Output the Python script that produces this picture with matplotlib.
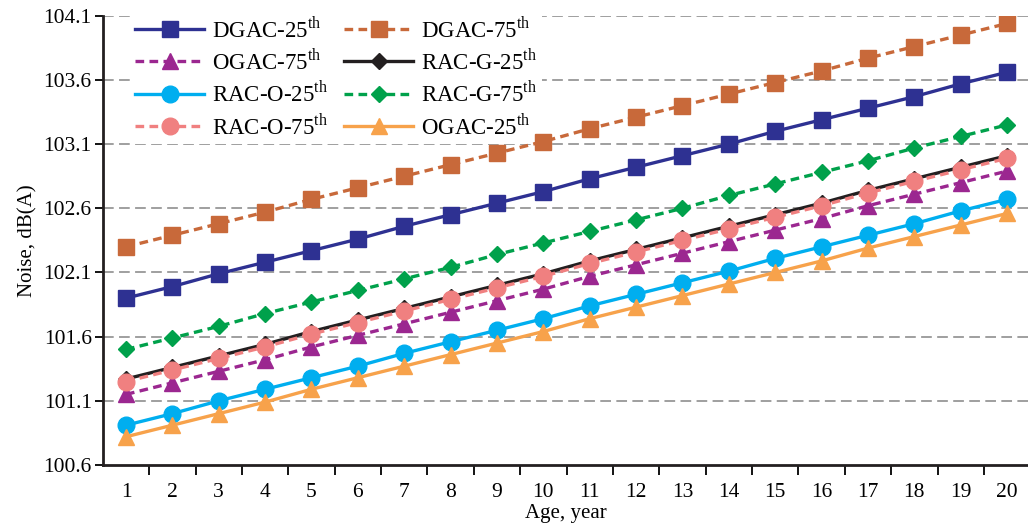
import numpy as np
import matplotlib.pyplot as plt
from matplotlib.ticker import FixedLocator

plt.rcParams['font.family'] = ['Liberation Serif', 'DejaVu Serif']
plt.rcParams['mathtext.fontset'] = 'custom'
plt.rcParams['mathtext.rm'] = 'Liberation Serif'

years = list(range(1, 21))

dgac_25 = [101.90, 101.99, 102.09, 102.18, 102.27, 102.36, 102.46, 102.55, 102.64, 102.73,
           102.83, 102.92, 103.01, 103.10, 103.20, 103.29, 103.38, 103.47, 103.57, 103.66]
dgac_75 = [102.30, 102.39, 102.48, 102.57, 102.67, 102.76, 102.85, 102.94, 103.03, 103.12,
           103.22, 103.31, 103.40, 103.49, 103.58, 103.67, 103.77, 103.86, 103.95, 104.04]
ogac_75 = [101.15, 101.24, 101.33, 101.42, 101.52, 101.61, 101.70, 101.79, 101.88, 101.97,
           102.07, 102.16, 102.25, 102.34, 102.43, 102.52, 102.62, 102.71, 102.80, 102.89]
racg_25 = [101.27, 101.36, 101.45, 101.54, 101.64, 101.73, 101.82, 101.91, 102.00, 102.09,
           102.19, 102.28, 102.37, 102.46, 102.55, 102.64, 102.74, 102.83, 102.92, 103.01]
raco_25 = [100.91, 101.00, 101.10, 101.19, 101.28, 101.37, 101.47, 101.56, 101.65, 101.74,
           101.84, 101.93, 102.02, 102.11, 102.21, 102.30, 102.39, 102.48, 102.58, 102.67]
racg_75 = [101.50, 101.59, 101.68, 101.78, 101.87, 101.96, 102.05, 102.14, 102.24, 102.33,
           102.42, 102.51, 102.60, 102.70, 102.79, 102.88, 102.97, 103.07, 103.16, 103.25]
raco_75 = [101.25, 101.34, 101.43, 101.52, 101.62, 101.71, 101.80, 101.89, 101.98, 102.07,
           102.17, 102.26, 102.35, 102.44, 102.53, 102.62, 102.72, 102.81, 102.90, 102.99]
ogac_25 = [100.82, 100.91, 101.00, 101.09, 101.19, 101.28, 101.37, 101.46, 101.55, 101.64,
           101.74, 101.83, 101.92, 102.01, 102.10, 102.19, 102.29, 102.38, 102.47, 102.56]

y_ticks = [100.6, 101.1, 101.6, 102.1, 102.6, 103.1, 103.6, 104.1]

# name, data, color, linestyle, marker, markersize
series = [
    ('DGAC-25', dgac_25, '#2E3192', '-', 's', 12),
    ('OGAC-75', ogac_75, '#9B2790', '--', '^', 11),
    ('RAC-O-25', raco_25, '#00AEEF', '-', 'o', 12),
    ('RAC-O-75', raco_75, '#F08080', '--', 'o', 12),
    ('DGAC-75', dgac_75, '#C8693A', '--', 's', 12),
    ('RAC-G-25', racg_25, '#231F20', '-', 'D', 8.5),
    ('RAC-G-75', racg_75, '#00A14B', '--', 'D', 8.5),
    ('OGAC-25', ogac_25, '#F7A24B', '-', '^', 11),
]
draw_order = ['DGAC-25', 'DGAC-75', 'OGAC-75', 'RAC-G-25', 'RAC-O-25', 'RAC-G-75', 'RAC-O-75', 'OGAC-25']

fig = plt.figure(figsize=(10.28, 5.26), dpi=100)
ax = fig.add_axes([0.1, 0.116, 0.9, 0.854])

lines = {}
for name, data, c, ls, mk, ms in series:
    z = 3 + draw_order.index(name)
    ln, = ax.plot(years, data, color=c, ls=ls, marker=mk, ms=ms, lw=2.4,
                  label=name + r'$^{\mathrm{th}}$', zorder=z)
    if ls == '--':
        ln.set_dashes((2.6, 1.6))
    lines[name] = ln

for y in y_ticks[1:]:
    ax.axhline(y, color='#858585', ls=(0, (7, 3.5)), lw=1.1, zorder=1)

ax.set_xlim(0.5, 20.45)
ax.set_ylim(100.6, 104.1)
ax.set_yticks(y_ticks)
ax.set_yticklabels(['%.1f' % v for v in y_ticks])
ax.set_xticks(years)
ax.set_xticklabels([str(v) for v in years])
ax.xaxis.set_minor_locator(FixedLocator([v + 0.5 for v in years[:-1]]))
ax.tick_params(axis='x', which='major', length=0, pad=13, labelsize=15.5)
ax.tick_params(axis='x', which='minor', length=7, width=1.3, direction='out')
ax.tick_params(axis='y', length=6, width=1.3, direction='out', labelsize=15.5, pad=2)

for s in ['top', 'right']:
    ax.spines[s].set_visible(False)
for s in ['left', 'bottom']:
    ax.spines[s].set_linewidth(2)
    ax.spines[s].set_color('#231F20')

ax.set_xlabel('Age, year', fontsize=15, labelpad=1.5)
ax.set_ylabel('Noise, dB(A)', fontsize=15, labelpad=4)

leg = ax.legend(handles=[lines[n] for n in ['DGAC-25', 'OGAC-75', 'RAC-O-25', 'RAC-O-75',
                                            'DGAC-75', 'RAC-G-25', 'RAC-G-75', 'OGAC-25']],
                ncol=2, loc='upper left', bbox_to_anchor=(0.018, 1.035), frameon=True,
                facecolor='white', edgecolor='none', framealpha=1, fancybox=False,
                fontsize=16.5, handlelength=3.0, columnspacing=0.7, labelspacing=0.28,
                handletextpad=0.35, borderpad=0.2)
leg.set_zorder(2)

fig.savefig('out.png', dpi=100)
